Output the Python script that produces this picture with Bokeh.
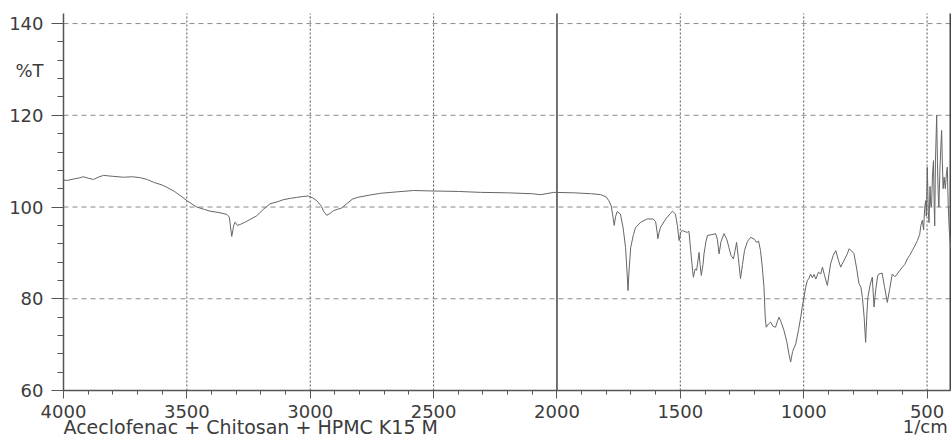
from bokeh.plotting import figure
from bokeh.models import Range1d, FixedTicker, Label, ColumnDataSource
from bokeh.embed import file_html
from bokeh.resources import INLINE

# ---- data ----
wavenumber = [4000, 3985, 3960, 3940, 3919, 3900, 3878, 3860, 3838, 3800, 3757, 3720, 3689,
              3660, 3635, 3600, 3581, 3550, 3527, 3497, 3475, 3460, 3430, 3406, 3370, 3338,
              3328, 3318, 3310, 3305, 3295, 3284, 3264, 3240, 3217, 3190, 3163, 3130, 3109,
              3080, 3055, 3030, 3008, 2990, 2974, 2955, 2945, 2933, 2920, 2906, 2890, 2873,
              2850, 2830, 2809, 2760, 2715, 2650, 2581, 2500, 2400, 2310, 2200, 2100, 2066,
              2013, 1932, 1860, 1823, 1800, 1790, 1780, 1772, 1768, 1762, 1756, 1743, 1732,
              1722, 1715, 1712, 1708, 1701, 1690, 1681, 1660, 1634, 1610, 1600, 1594, 1591,
              1586, 1580, 1559, 1540, 1532, 1520, 1512, 1505, 1498, 1492, 1480, 1471, 1465,
              1458, 1450, 1447, 1440, 1434, 1428, 1424, 1420, 1415, 1408, 1404, 1396, 1390,
              1372, 1357, 1350, 1343, 1335, 1323, 1312, 1303, 1295, 1285, 1278, 1272, 1265,
              1256, 1248, 1240, 1228, 1215, 1200, 1191, 1183, 1175, 1168, 1161, 1156, 1152,
              1143, 1134, 1124, 1114, 1107, 1100, 1092, 1080, 1068, 1060, 1053, 1045, 1032,
              1020, 1012, 1005, 999, 992, 985, 978, 972, 965, 958, 951, 940, 931, 924, 915,
              904, 897, 891, 880, 870, 860, 850, 840, 823, 816, 805, 796, 785, 776, 768, 762,
              755, 749, 744, 740, 731, 722, 715, 708, 700, 695, 682, 672, 661, 652, 641, 630,
              621, 610, 600, 590, 580, 570, 560, 550, 539, 530, 525, 519, 514, 510, 506, 503,
              499, 495, 492, 488, 485, 482, 478, 474, 471, 469, 466, 464, 461, 458, 455, 452,
              448, 445, 441, 438, 435, 431, 426, 422, 418, 414, 410, 405]
transmittance = [105.9, 105.8, 106.1, 106.3, 106.6, 106.3, 106.0, 106.5, 106.9, 106.7, 106.5,
                 106.6, 106.4, 106.0, 105.4, 104.8, 104.3, 103.4, 102.5, 101.3, 100.5, 100.0,
                 99.5, 99.1, 98.8, 98.4, 97.8, 93.6, 96.0, 96.7, 96.0, 96.2, 96.7, 97.4, 98.1,
                 99.5, 100.7, 101.2, 101.6, 101.9, 102.1, 102.3, 102.4, 102.0, 101.4, 100.2,
                 99.0, 98.2, 98.6, 99.2, 99.5, 99.8, 100.8, 101.7, 102.1, 102.6, 103.0, 103.3,
                 103.6, 103.5, 103.4, 103.2, 103.1, 102.9, 102.7, 103.2, 103.1, 102.9, 102.7,
                 102.2, 101.4, 100.2, 97.5, 96.0, 98.0, 99.0, 98.5, 95.5, 91.2, 85.0, 81.8,
                 86.0, 91.2, 94.0, 95.6, 96.7, 97.4, 97.4, 96.8, 94.5, 93.1, 94.5, 95.6, 97.4,
                 98.6, 99.1, 98.5, 96.0, 92.7, 94.5, 94.9, 94.6, 94.5, 94.7, 90.5, 86.0, 84.7,
                 86.5, 86.2, 88.5, 90.1, 87.5, 85.1, 87.5, 89.8, 92.5, 93.8, 94.0, 94.2, 93.0,
                 89.8, 92.5, 94.2, 93.0, 91.2, 89.5, 88.7, 90.5, 92.3, 89.0, 84.4, 87.5, 90.5,
                 92.5, 93.4, 93.0, 92.3, 92.6, 90.5, 87.0, 82.5, 76.0, 73.8, 74.5, 74.9, 74.0,
                 73.8, 75.0, 76.0, 75.0, 73.1, 70.5, 68.0, 66.2, 68.5, 70.2, 73.5, 76.0, 78.5,
                 80.3, 82.5, 84.0, 84.5, 85.4, 84.6, 85.3, 84.3, 85.8, 85.4, 86.9, 85.0, 82.9,
                 85.5, 87.6, 89.5, 90.5, 88.5, 86.9, 88.0, 89.8, 90.9, 90.4, 89.8, 86.5, 83.3,
                 82.5, 80.3, 76.0, 70.5, 76.5, 80.3, 83.0, 84.7, 78.2, 82.0, 85.0, 85.4, 85.6,
                 82.5, 79.2, 82.0, 85.4, 84.8, 85.4, 86.2, 86.9, 87.5, 88.7, 89.5, 90.5, 91.5,
                 92.7, 94.0, 96.0, 97.1, 95.0, 99.5, 101.4, 98.0, 108.7, 99.0, 96.6, 104.5,
                 100.5, 100.0, 107.0, 110.1, 100.0, 95.9, 110.0, 114.0, 120.0, 110.0, 103.0,
                 100.0, 108.0, 112.0, 116.7, 110.0, 104.0, 106.5, 104.0, 107.0, 108.7, 100.0,
                 95.0, 91.2]

x_major = [4000, 3500, 3000, 2500, 2000, 1500, 1000, 500]
x_grid = [3500, 3000, 2500, 1500, 1000, 500]
y_major = [60, 80, 100, 120, 140]
title_text = "Aceclofenac + Chitosan + HPMC K15 M"
y_unit = "%T"
x_unit = "1/cm"

# axis extents (plot box) and the visible window around it
X_LEFT, X_RIGHT = 4000, 405
Y_BOTTOM, Y_TOP = 60, 142.2

FONT = "DejaVu Sans"
FS = "18px"
TXT = "#3c3c3c"

p = figure(width=952, height=439,
           x_range=Range1d(4255.3, 396.9), y_range=Range1d(49.32, 145.03),
           output_backend="svg", toolbar_location=None,
           min_border_left=0, min_border_right=0, min_border_top=0, min_border_bottom=0)
p.outline_line_color = None
p.background_fill_color = "white"
p.xgrid.visible = False
p.ygrid.visible = False

# grid lines limited to the plot box
nx = len(x_grid)
p.segment(x0=x_grid, y0=[Y_BOTTOM] * nx, x1=x_grid, y1=[Y_TOP] * nx,
          line_color="#555555", line_dash="2 2", line_width=1)
ny = len(y_major)
p.segment(x0=[X_LEFT] * ny, y0=y_major, x1=[X_RIGHT] * ny, y1=y_major,
          line_color="#8a8a8a", line_dash="5 4", line_width=1)
# solid line at 2000 and right border
p.segment(x0=[2000, X_RIGHT + 1], y0=[Y_BOTTOM] * 2, x1=[2000, X_RIGHT + 1], y1=[Y_TOP] * 2,
          line_color="#444444", line_width=1.5)

src = ColumnDataSource(dict(x=wavenumber, y=transmittance))
p.line("x", "y", source=src, line_color="#666666", line_width=1)

# axes drawn at fixed data positions
x_minor = [v for v in range(4000, 400, -100) if v not in x_major]
y_minor = [v for v in range(60, 143, 4) if v not in y_major]
p.xaxis.fixed_location = Y_BOTTOM
p.xaxis.bounds = (X_RIGHT, X_LEFT)
p.yaxis.fixed_location = X_LEFT
p.yaxis.bounds = (Y_BOTTOM, Y_TOP)
p.xaxis.ticker = FixedTicker(ticks=x_major, minor_ticks=x_minor)
p.yaxis.ticker = FixedTicker(ticks=y_major, minor_ticks=y_minor)
for ax in (p.xaxis, p.yaxis):
    ax.axis_line_color = "#555555"
    ax.axis_line_width = 1.5
    ax.major_tick_line_color = "#555555"
    ax.minor_tick_line_color = "#555555"
    ax.major_label_text_font = FONT
    ax.major_label_text_font_size = FS
    ax.major_label_text_color = TXT
p.xaxis.major_tick_out = 8
p.xaxis.major_tick_in = 0
p.xaxis.minor_tick_out = 4
p.xaxis.minor_tick_in = 0
p.xaxis.major_label_standoff = 6
p.yaxis.major_tick_out = 12
p.yaxis.major_tick_in = 0
p.yaxis.minor_tick_out = 6
p.yaxis.minor_tick_in = 0
p.yaxis.major_label_standoff = 8

# texts
p.add_layout(Label(x=X_LEFT, y=129.75, x_offset=-20, text=y_unit, text_align="right",
                   text_baseline="middle", text_font=FONT, text_font_size=FS,
                   text_color=TXT))
p.add_layout(Label(x=X_LEFT, y=Y_BOTTOM, y_offset=-25, text=title_text, text_align="left",
                   text_baseline="top", text_font=FONT, text_font_size="19px",
                   text_color=TXT))
p.add_layout(Label(x=416, y=Y_BOTTOM, y_offset=-25, text=x_unit, text_align="right",
                   text_baseline="top", text_font=FONT, text_font_size=FS,
                   text_color=TXT))

open("out.html", "w").write(file_html(p, INLINE))
